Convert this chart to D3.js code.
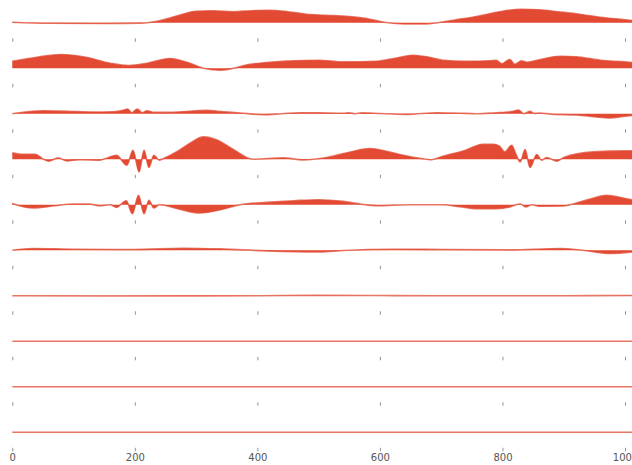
<!DOCTYPE html>
<html>
<head>
<meta charset="utf-8">
<script src="https://cdn.jsdelivr.net/npm/d3@7"></script>
<style>
  html, body { margin: 0; padding: 0; background: #fff; overflow: hidden; }
  svg { display: block; }
</style>
</head>
<body>
<div id="chart"></div>
<script>
// one [x, value] list per row
const mode1 = [[0, 0.05], [60, -0.06], [150, -0.08], [210, -0.04], [240, 0.2], [270, 0.7], [300, 1.15], [330, 1.2], [360, 1.1], [390, 1.2], [420, 1.25], [450, 1.1], [480, 0.85], [510, 0.75], [550, 0.62], [580, 0.4], [610, 0.02], [640, -0.12], [670, -0.12], [695, 0.0], [720, 0.25], [760, 0.65], [800, 1.15], [830, 1.35], [860, 1.3], [890, 1.1], [920, 0.9], [960, 0.55], [1000, 0.3], [1023, 0.15]]
const mode2 = [[0, 0.7], [40, 1.1], [80, 1.37], [120, 1.1], [160, 0.5], [190, 0.27], [220, 0.5], [257, 0.97], [285, 0.6], [312, 0.0], [340, -0.2], [365, 0.05], [380, 0.3], [415, 0.57], [460, 0.75], [500, 0.8], [540, 0.63], [595, 0.7], [625, 1.0], [654, 1.3], [680, 1.1], [703, 0.8], [740, 0.7], [780, 0.75], [790, 0.78], [799, 0.45], [812, 0.87], [820, 0.4], [831, 0.73], [840, 0.6], [860, 0.85], [894, 1.2], [920, 1.15], [960, 0.8], [1000, 0.63], [1023, 0.5]]
const mode3 = [[0, 0.0], [25, 0.2], [51, 0.3], [90, 0.25], [132, 0.17], [165, 0.2], [181, 0.35], [188, 0.47], [195, 0.1], [204, 0.47], [212, 0.1], [220, 0.3], [230, 0.15], [252, 0.13], [290, 0.25], [317, 0.33], [345, 0.2], [372, 0.07], [410, -0.1], [440, 0.0], [470, 0.1], [500, 0.1], [540, 0.05], [550, 0.1], [560, 0.0], [570, 0.08], [590, 0.05], [644, -0.07], [693, 0.1], [730, 0.05], [758, 0.0], [790, 0.1], [805, 0.15], [818, 0.25], [826, 0.37], [835, 0.0], [845, 0.23], [852, 0.03], [860, 0.07], [880, -0.05], [921, -0.13], [950, -0.3], [975, -0.43], [1000, -0.25], [1023, -0.1]]
const mode4 = [[0, 0.63], [15, 0.5], [37, 0.5], [51, 0.0], [59, -0.2], [75, 0.13], [89, -0.17], [110, -0.05], [143, -0.1], [155, 0.13], [170, 0.4], [187, -0.6], [197, 0.9], [207, -1.27], [215, 0.9], [223, -0.83], [231, 0.4], [240, -0.1], [246, 0.05], [270, 0.8], [290, 1.6], [312, 2.23], [335, 1.9], [360, 1.0], [393, 0.0], [442, 0.13], [475, -0.07], [513, 0.17], [550, 0.7], [584, 1.07], [610, 0.8], [638, 0.4], [670, 0.05], [682, -0.05], [703, 0.3], [740, 0.9], [768, 1.5], [785, 1.5], [795, 1.3], [804, 0.73], [815, 1.4], [822, 0.5], [829, -0.27], [837, 0.97], [845, -0.83], [856, 0.47], [864, -0.1], [872, 0.17], [889, -0.2], [900, 0.17], [948, 0.73], [1000, 0.83], [1023, 0.83]]
const mode5 = [[0, 0.13], [34, -0.33], [70, -0.1], [100, 0.07], [125, 0.07], [143, -0.1], [160, 0.0], [170, -0.27], [186, 0.4], [196, -0.9], [206, 0.93], [215, -0.9], [223, 0.43], [231, -0.33], [240, 0.0], [270, -0.4], [306, -0.83], [340, -0.5], [360, -0.17], [372, 0.0], [415, 0.23], [460, 0.4], [500, 0.5], [540, 0.33], [570, 0.05], [595, -0.1], [649, 0.0], [703, 0.0], [730, -0.2], [758, -0.4], [790, -0.4], [812, -0.23], [822, 0.0], [829, 0.07], [838, -0.23], [848, 0.0], [860, -0.15], [899, -0.13], [921, 0.17], [945, 0.6], [970, 0.93], [995, 0.7], [1023, 0.3]]
const mode6 = [[0, 0.0], [34, 0.17], [100, 0.1], [197, 0.07], [279, 0.2], [340, 0.13], [415, -0.07], [502, -0.17], [540, -0.03], [621, 0.1], [703, 0.07], [812, 0.03], [894, 0.17], [931, 0.0], [975, -0.33], [1023, -0.1]]
const mode7 = [[0, 0.0], [150, -0.03], [400, 0.0], [500, 0.03], [700, 0.0], [900, 0.0], [1023, 0.03]]
const mode8 = [[0, 0.0], [1023, 0.0]]
const mode9 = [[0, 0.0], [1023, 0.0]]
const mode10 = [[0, 0.0], [1023, 0.0]]

const modes = [mode1, mode2, mode3, mode4, mode5, mode6, mode7, mode8, mode9, mode10]
const xTicks = [0, 200, 400, 600, 800, 1000]

const width = 632
const height = 465
const red = "#E24A33"

const svg = d3.select("#chart")
  .append("svg")
  .attr("width", width)
  .attr("height", height)

const x = d3.scaleLinear().domain([0, 1000]).range([12.3, 625])

// each row is its own small axes, all sharing the same y range
const rowTop = 38.3 - 41.6
const rowStep = 45.5
const y = d3.scaleLinear().domain([-1.56, 2.6]).range([41.6, 0])

modes.forEach((data, i) => {
  const g = svg.append("g")
    .attr("transform", `translate(0,${rowTop + i * rowStep})`)

  const area = d3.area()
    .x(d => x(d[0]))
    .y0(y(0))
    .y1(d => y(d[1]))
    .curve(d3.curveMonotoneX)

  const line = d3.line()
    .x(d => x(d[0]))
    .y(d => y(d[1]))
    .curve(d3.curveMonotoneX)

  g.append("path")
    .attr("d", area(data))
    .attr("fill", red)

  g.append("path")
    .attr("d", line(data))
    .attr("fill", "none")
    .attr("stroke", red)
    .attr("stroke-opacity", 0.75)
    .attr("stroke-width", 1.6)

  const axis = d3.axisBottom(x)
    .tickValues(xTicks)
    .tickSize(3.5)
    .tickPadding(2.2)
    .tickFormat(i === modes.length - 1 ? d3.format("d") : "")

  const ax = g.append("g")
    .attr("transform", `translate(0,${y.range()[0]})`)
    .call(axis)

  ax.select(".domain").remove()
  ax.selectAll(".tick line")
    .attr("stroke", "#777")
    .attr("stroke-width", 0.8)
  ax.selectAll(".tick text")
    .attr("fill", "#555")
    .style("font-family", "DejaVu Sans")
    .style("font-size", "10px")
})
</script>
</body>
</html>
